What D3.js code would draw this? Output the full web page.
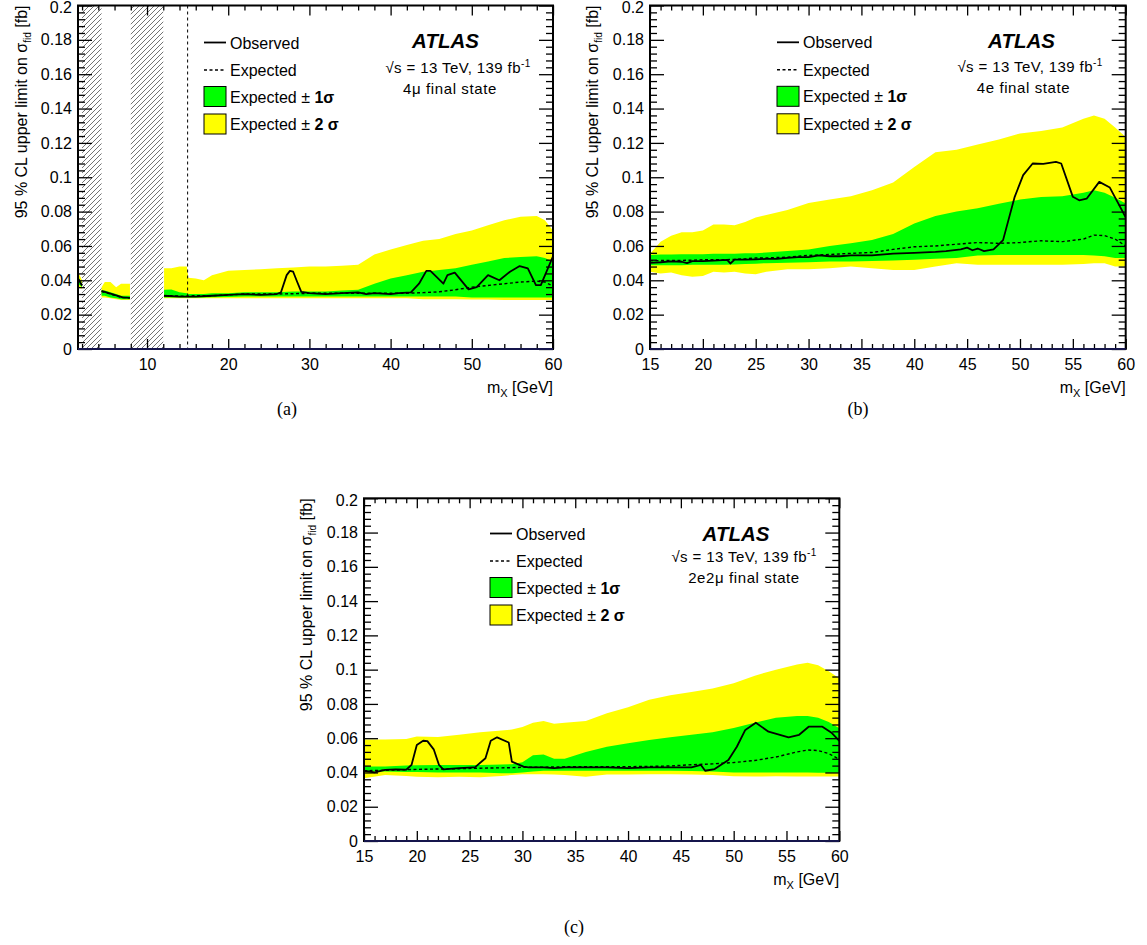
<!DOCTYPE html>
<html><head><meta charset="utf-8">
<script src="https://cdn.jsdelivr.net/npm/d3@7"></script>
<style>
body{margin:0;background:#fff}
svg{display:block}
text{font-family:"Liberation Sans",Arial,sans-serif;fill:#000}
text.serif{font-family:"Liberation Serif","Times New Roman",serif}
</style>
</head><body>
<svg id="chart" width="1147" height="945"></svg>
<script>
// ---------------- DATA ----------------
// Panel (a) 4mu
const aMass = [1.5,2.0, 4.4,4.8,5.5,6.2,6.8,7.9, 12.1,13,14,14.9,15.1,16,17,18, 20,22,24,26,28,30,32,34,36,38,40,42,44,46,48,50,52,54,56,58,59,60];
const aY2hi = [0.045,0.040, 0.036,0.039,0.039,0.036,0.038,0.038, 0.047,0.047,0.048,0.048,0.0415,0.041,0.040,0.043, 0.0455,0.046,0.0465,0.047,0.0475,0.048,0.048,0.0485,0.049,0.055,0.058,0.0605,0.063,0.064,0.067,0.069,0.072,0.075,0.077,0.0775,0.075,0.069];
const aY1hi = [0.042,0.038, 0.034,0.034,0.033,0.032,0.031,0.031, 0.0345,0.0347,0.033,0.0325,0.032,0.032,0.032,0.0325, 0.0325,0.033,0.033,0.033,0.0335,0.0335,0.0335,0.034,0.0345,0.038,0.041,0.043,0.045,0.046,0.047,0.049,0.051,0.053,0.0535,0.054,0.053,0.051];
const aY1lo = [0.038,0.036, 0.031,0.031,0.030,0.0295,0.029,0.029, 0.030,0.030,0.030,0.030,0.030,0.030,0.030,0.0302, 0.0303,0.0305,0.0305,0.0305,0.0305,0.0305,0.0305,0.0305,0.0305,0.0305,0.0305,0.0305,0.0305,0.0305,0.0305,0.030,0.030,0.030,0.030,0.030,0.030,0.030];
const aY2lo = [0.036,0.035, 0.030,0.030,0.0295,0.029,0.0285,0.0285, 0.0295,0.0295,0.0295,0.0295,0.0295,0.0295,0.0295,0.0295, 0.0295,0.0295,0.0295,0.0295,0.0295,0.0295,0.0295,0.0295,0.0295,0.0295,0.0295,0.0295,0.029,0.029,0.029,0.0288,0.0288,0.0285,0.0285,0.0285,0.0285,0.0285];
const aExp  = [0.041,0.037, 0.0335,0.033,0.032,0.031,0.030,0.0298, 0.031,0.031,0.0308,0.0308,0.0308,0.031,0.031,0.031, 0.0315,0.032,0.032,0.032,0.0322,0.0324,0.0325,0.0325,0.0325,0.0325,0.0325,0.0325,0.0328,0.0333,0.0345,0.036,0.037,0.038,0.039,0.0395,0.039,0.0366];
const aObsMass = [1.5,2.0,4.4,5,6,7,7.9, 12.1,14,16,18,20,22,24,26, 26.5,27.2,27.6,28.0,28.5,29.0, 30,32,34,36,37,38,40,41, 42.5,43.5,44.4,44.9,46.5,47,47.9, 49.6,50.6,52,53.4,54.7,55.9,56.9,57.9,58.5,60];
const aObs = [0.041,0.037,0.0339,0.033,0.0315,0.030,0.0298, 0.031,0.0305,0.0305,0.031,0.0315,0.032,0.0315,0.032, 0.033,0.043,0.0455,0.045,0.039,0.0333, 0.0325,0.032,0.0325,0.033,0.032,0.0325,0.032,0.0325, 0.033,0.038,0.0455,0.0455,0.038,0.043,0.0445, 0.0347,0.036,0.043,0.040,0.045,0.0483,0.047,0.0372,0.0372,0.054];
const aHatch = [[2.0,4.4],[8.0,12.0]];
const aCutLine = [15];

// Panel (b) 4e
const bMass = [15,16,17,18,19,20,21,22,23,24,25,26,28,30,32,34,36,38,40,42,44,46,48,50,52,54,56,57,58,59,60];
const bY2hi = [0.0555,0.0625,0.066,0.068,0.068,0.069,0.0725,0.0725,0.072,0.074,0.0765,0.078,0.081,0.085,0.087,0.089,0.0925,0.097,0.106,0.1145,0.116,0.119,0.122,0.1255,0.127,0.129,0.134,0.136,0.134,0.129,0.1235];
const bY1hi = [0.0548,0.055,0.055,0.0552,0.0552,0.0552,0.0555,0.0555,0.0555,0.0557,0.0558,0.0562,0.057,0.058,0.060,0.0615,0.0635,0.067,0.073,0.0775,0.080,0.082,0.0845,0.087,0.0885,0.089,0.091,0.0925,0.091,0.088,0.0847];
const bY1lo = [0.0488,0.0488,0.0488,0.0488,0.049,0.049,0.049,0.049,0.0492,0.0495,0.0497,0.050,0.0502,0.0505,0.051,0.051,0.0512,0.0515,0.052,0.0525,0.053,0.0545,0.0547,0.0547,0.0547,0.0547,0.0547,0.0545,0.054,0.053,0.053];
const bY2lo = [0.045,0.044,0.0445,0.043,0.042,0.0425,0.045,0.0445,0.045,0.044,0.0435,0.045,0.0465,0.0465,0.047,0.048,0.047,0.046,0.046,0.048,0.050,0.049,0.049,0.049,0.049,0.049,0.0495,0.050,0.050,0.048,0.048];
const bExp  = [0.0514,0.0515,0.0515,0.0516,0.0517,0.052,0.052,0.052,0.0522,0.0525,0.053,0.053,0.0535,0.0545,0.055,0.0557,0.0562,0.058,0.0595,0.060,0.061,0.062,0.0615,0.062,0.063,0.0625,0.064,0.0663,0.066,0.064,0.060];
const bObsMass = [15,16,17,18,18.5,19,20,21, 22.3,22.6,23,24,25,26,27,28, 29,30,31,32,33,34,35,36, 38,40,42,43,44.4,45,45.5,46, 46.6,47.5,48.4,49.5,50.3,51.2,52.2,53.4, 53.9,55.0,55.6,56.3,57.5,58.5,60];
const bObs = [0.0502,0.0505,0.051,0.0508,0.050,0.0512,0.0512,0.0515, 0.0519,0.0498,0.052,0.052,0.0522,0.0525,0.0525,0.053, 0.0535,0.0535,0.0545,0.054,0.054,0.0545,0.0545,0.0545, 0.0555,0.056,0.0565,0.057,0.058,0.059,0.0575,0.0585, 0.057,0.058,0.0634,0.0886,0.1012,0.108,0.1078,0.109, 0.108,0.0886,0.0866,0.0875,0.0973,0.094,0.0766];

// Panel (c) 2e2mu
const cMass = [15,17,19,20,22,24,26,28,29,30,31,32,33,34,36,38,40,42,44,46,48,50,52,54,56,57,58,59,60];
const cY2hi = [0.0593,0.0593,0.0595,0.061,0.0607,0.062,0.0635,0.0645,0.065,0.0665,0.069,0.070,0.0685,0.069,0.070,0.0745,0.078,0.0825,0.085,0.087,0.089,0.092,0.0965,0.100,0.103,0.104,0.1025,0.099,0.095];
const cY1hi = [0.0435,0.0435,0.044,0.0442,0.0444,0.0444,0.0444,0.0446,0.0448,0.046,0.050,0.0505,0.048,0.048,0.052,0.055,0.057,0.059,0.0605,0.062,0.0635,0.066,0.069,0.072,0.073,0.073,0.072,0.0695,0.0658];
const cY1lo = [0.0405,0.0405,0.0403,0.0402,0.040,0.040,0.040,0.0395,0.0395,0.040,0.0405,0.041,0.041,0.041,0.041,0.041,0.041,0.041,0.041,0.0408,0.0405,0.040,0.040,0.040,0.040,0.040,0.0398,0.0398,0.0398];
const cY2lo = [0.0366,0.0385,0.038,0.0375,0.0372,0.0375,0.0372,0.038,0.0385,0.039,0.039,0.039,0.0388,0.0385,0.0375,0.0388,0.0388,0.039,0.039,0.0388,0.0385,0.0378,0.0376,0.0378,0.0376,0.0376,0.0376,0.0376,0.0376];
const cExp  = [0.041,0.0413,0.0416,0.0418,0.042,0.0422,0.0425,0.0427,0.0428,0.043,0.043,0.0431,0.0432,0.0433,0.0433,0.0434,0.0434,0.0435,0.0438,0.0445,0.045,0.0458,0.047,0.049,0.052,0.0531,0.0528,0.051,0.0477];
const cObsMass = [15,16,17,18,19,19.5,20,20.6, 21,21.6,22.1,22.5,24,25.3,25.5,26.5, 27,27.6,28.7,29.0,30.1,30.6,32,33, 34,36,38,40,42,44,46,46.9, 47.3,48.2,49.5,50.3,51.1,52.1,53.3,55.2, 56.2,57.1,58.4,59.3,60];
const cObs = [0.041,0.040,0.0415,0.0418,0.0416,0.0444,0.056,0.0585, 0.0583,0.0535,0.0444,0.0418,0.0425,0.043,0.043,0.0483, 0.0585,0.0605,0.0575,0.0463,0.0434,0.043,0.043,0.0425, 0.043,0.043,0.043,0.0425,0.043,0.043,0.043,0.0444, 0.041,0.042,0.0473,0.055,0.0648,0.069,0.0638,0.0605, 0.062,0.0667,0.0667,0.063,0.0585];

// Axis ticks / labels
const yMajor = [0,0.02,0.04,0.06,0.08,0.1,0.12,0.14,0.16,0.18,0.2];
const yMinor = d3.range(0,0.2001,0.004);
const aXMajor = [10,20,30,40,50,60];
const aXMinor = d3.range(2,60.01,2);
const bcXMajor = [15,20,25,30,35,40,45,50,55,60];
const bcXMinor = d3.range(15,60.01,1);
const legendLabels = ["Observed","Expected","Expected \u00b1 ","Expected \u00b1 "];
const legendBold = ["","","1\u03c3","2 \u03c3"];
const atlasLine2 = "\u221as = 13 TeV, 139 fb";
const finalStates = ["4\u03bc final state","4e final state","2e2\u03bc final state"];
const panelTags = ["(a)","(b)","(c)"];

// ---------------- LAYOUT ----------------
const panels = [
  {id:'a', left:78, right:553, top:5.5, bottom:349, xDomain:[1.5,60], xMajor:aXMajor, xMinor:aXMinor,
   mass:aMass, y2hi:aY2hi, y1hi:aY1hi, y1lo:aY1lo, y2lo:aY2lo, exp:aExp, obsMass:aObsMass, obs:aObs,
   hatch:aHatch, cut:aCutLine, ylabX:27, leg:{x:204,y:42.5}, atlas:{c:[445.5,458,450], y:[47.7,72.5,93.5]},
   tag:{x:287,y:415}, fs:0},
  {id:'b', left:650, right:1125.7, top:5.5, bottom:349, xDomain:[15,60], xMajor:bcXMajor, xMinor:bcXMinor,
   mass:bMass, y2hi:bY2hi, y1hi:bY1hi, y1lo:bY1lo, y2lo:bY2lo, exp:bExp, obsMass:bObsMass, obs:bObs,
   hatch:[], cut:[], ylabX:598, leg:{x:777,y:42.3}, atlas:{c:[1021.5,1030,1023.5], y:[48,72,92.5]},
   tag:{x:858,y:415}, fs:1},
  {id:'c', left:364, right:839.3, top:498.3, bottom:841, xDomain:[15,60], xMajor:bcXMajor, xMinor:bcXMinor,
   mass:cMass, y2hi:cY2hi, y1hi:cY1hi, y1lo:cY1lo, y2lo:cY2lo, exp:cExp, obsMass:cObsMass, obs:cObs,
   hatch:[], cut:[], ylabX:312, leg:{x:490,y:533.5}, atlas:{c:[736,744,744], y:[540.5,562,583]},
   tag:{x:574,y:933}, fs:2}
];

const svg = d3.select('#chart');
svg.append('rect').attr('width',1147).attr('height',945).attr('fill','#fff');
const defs = svg.append('defs');
defs.append('pattern').attr('id','hatch').attr('patternUnits','userSpaceOnUse')
  .attr('width',5).attr('height',5)
  .append('path').attr('d','M-1,1 l2,-2 M0,5 l5,-5 M4,6 l2,-2')
  .attr('stroke','#5a5a5a').attr('stroke-width',0.85);

function splitSegs(pts, hatch){
  const segs=[]; let cur=[];
  pts.forEach((p,i)=>{
    if(i>0){
      const prev=pts[i-1].m;
      if(hatch.some(h=>prev<=h[0]+1e-6 && p.m>=h[1]-1e-6)){ segs.push(cur); cur=[]; }
    }
    cur.push(p);
  });
  segs.push(cur);
  return segs;
}

function styleAxis(g){
  g.select('.domain').remove();
  g.selectAll('.tick line').attr('stroke','#000').attr('stroke-width',1.3);
  g.attr('font-family',null).attr('font-size',null);
  g.selectAll('text').attr('font-size',16).attr('fill','#000');
}

panels.forEach((p,pi)=>{
  const x = d3.scaleLinear().domain(p.xDomain).range([p.left,p.right]);
  const y = d3.scaleLinear().domain([0,0.2]).range([p.bottom,p.top]);
  const g = svg.append('g');
  const clipId='clip'+p.id;
  defs.append('clipPath').attr('id',clipId).append('rect')
    .attr('x',p.left).attr('y',p.top).attr('width',p.right-p.left).attr('height',p.bottom-p.top);
  const plot = g.append('g').attr('clip-path',`url(#${clipId})`);

  const bandPts = p.mass.map((m,i)=>({m, y2lo:p.y2lo[i], y2hi:p.y2hi[i], y1lo:p.y1lo[i], y1hi:p.y1hi[i], exp:p.exp[i]}));
  const obsPts = p.obsMass.map((m,i)=>({m, v:p.obs[i]}));
  const bandSegs = splitSegs(bandPts,p.hatch);
  const obsSegs = splitSegs(obsPts,p.hatch);

  const a2 = d3.area().x(d=>x(d.m)).y0(d=>y(d.y2lo)).y1(d=>y(d.y2hi));
  const a1 = d3.area().x(d=>x(d.m)).y0(d=>y(d.y1lo)).y1(d=>y(d.y1hi));
  const le = d3.line().x(d=>x(d.m)).y(d=>y(d.exp));
  const lo = d3.line().x(d=>x(d.m)).y(d=>y(d.v));

  bandSegs.forEach(s=>plot.append('path').attr('d',a2(s)).attr('fill','#ffff00'));
  bandSegs.forEach(s=>plot.append('path').attr('d',a1(s)).attr('fill','#00ff00'));

  p.hatch.forEach(h=>{
    plot.append('rect').attr('x',x(h[0])).attr('y',p.top).attr('width',x(h[1])-x(h[0])).attr('height',p.bottom-p.top)
      .attr('fill','url(#hatch)');
  });

  bandSegs.forEach(s=>plot.append('path').attr('d',le(s)).attr('fill','none')
    .attr('stroke','#000').attr('stroke-width',1.4).attr('stroke-dasharray','3,2.5'));
  obsSegs.forEach(s=>plot.append('path').attr('d',lo(s)).attr('fill','none')
    .attr('stroke','#000').attr('stroke-width',1.8).attr('stroke-linejoin','round'));

  p.cut.forEach(c=>{
    g.append('line').attr('x1',x(c)).attr('x2',x(c)).attr('y1',p.top).attr('y2',p.bottom)
      .attr('stroke','#000').attr('stroke-width',1).attr('stroke-dasharray','3,3');
  });

  // axes
  const minorX = p.xMinor.filter(v=>!p.xMajor.some(M=>Math.abs(M-v)<1e-6) && v>p.xDomain[0]);
  const minorY = yMinor.filter(v=>!yMajor.some(M=>Math.abs(M-v)<1e-6));
  g.append('g').attr('transform',`translate(0,${p.bottom})`)
    .call(d3.axisBottom(x).tickValues(p.xMajor).tickSizeInner(-10).tickSizeOuter(0).tickPadding(10).tickFormat(d3.format('d'))).call(styleAxis);
  g.append('g').attr('transform',`translate(0,${p.bottom})`)
    .call(d3.axisBottom(x).tickValues(minorX).tickSizeInner(-5).tickSizeOuter(0).tickFormat('')).call(styleAxis);
  g.append('g').attr('transform',`translate(0,${p.top})`)
    .call(d3.axisTop(x).tickValues(p.xMajor).tickSizeInner(-10).tickSizeOuter(0).tickFormat('')).call(styleAxis);
  g.append('g').attr('transform',`translate(0,${p.top})`)
    .call(d3.axisTop(x).tickValues(minorX).tickSizeInner(-5).tickSizeOuter(0).tickFormat('')).call(styleAxis);
  const yl = g.append('g').attr('transform',`translate(${p.left},0)`)
    .call(d3.axisLeft(y).tickValues(yMajor).tickSizeInner(-14).tickSizeOuter(0).tickPadding(6).tickFormat(d=>String(+d.toFixed(3)))).call(styleAxis);
  yl.selectAll('.tick').filter(d=>d===0.2).select('text').attr('dy','0.42em');
  g.append('g').attr('transform',`translate(${p.left},0)`)
    .call(d3.axisLeft(y).tickValues(minorY).tickSizeInner(-7).tickSizeOuter(0).tickFormat('')).call(styleAxis);
  g.append('g').attr('transform',`translate(${p.right},0)`)
    .call(d3.axisRight(y).tickValues(yMajor).tickSizeInner(-14).tickSizeOuter(0).tickFormat('')).call(styleAxis);
  g.append('g').attr('transform',`translate(${p.right},0)`)
    .call(d3.axisRight(y).tickValues(minorY).tickSizeInner(-7).tickSizeOuter(0).tickFormat('')).call(styleAxis);

  // frame
  g.append('rect').attr('x',p.left).attr('y',p.top).attr('width',p.right-p.left).attr('height',p.bottom-p.top)
    .attr('fill','none').attr('stroke','#000').attr('stroke-width',2);
  g.append('line').attr('x1',p.left).attr('x2',p.right).attr('y1',y(0)).attr('y2',y(0))
    .attr('stroke','#1c1c66').attr('stroke-width',1.6);

  // axis titles
  const xt = g.append('text').attr('x',p.right).attr('y',p.bottom+44).attr('text-anchor','end').attr('font-size',16);
  xt.append('tspan').text('m');
  xt.append('tspan').attr('font-size',11).attr('dy',4).text('X');
  xt.append('tspan').attr('dy',-4).text(' [GeV]');

  const yt = g.append('text').attr('transform',`translate(${p.ylabX},${p.top}) rotate(-90)`)
    .attr('text-anchor','end').attr('font-size',16);
  yt.append('tspan').text('95 % CL upper limit on \u03c3');
  yt.append('tspan').attr('font-size',10).attr('dy',4).text('fid');
  yt.append('tspan').attr('dy',-4).text(' [fb]');

  // legend
  const L = p.leg;
  const rows = [0,27.5,54,81.5];
  g.append('line').attr('x1',L.x).attr('x2',L.x+22).attr('y1',L.y+rows[0]).attr('y2',L.y+rows[0])
    .attr('stroke','#000').attr('stroke-width',1.8);
  g.append('line').attr('x1',L.x).attr('x2',L.x+22).attr('y1',L.y+rows[1]).attr('y2',L.y+rows[1])
    .attr('stroke','#000').attr('stroke-width',1.4).attr('stroke-dasharray','3,2.5');
  g.append('rect').attr('x',L.x).attr('y',L.y+rows[2]-10).attr('width',22).attr('height',20)
    .attr('fill','#00ff00').attr('stroke','#000').attr('stroke-width',1);
  g.append('rect').attr('x',L.x).attr('y',L.y+rows[3]-10).attr('width',22).attr('height',20)
    .attr('fill','#ffff00').attr('stroke','#000').attr('stroke-width',1);
  legendLabels.forEach((t,i)=>{
    const tx = g.append('text').attr('x',L.x+26).attr('y',L.y+rows[i]+6).attr('font-size',16);
    tx.append('tspan').text(t);
    if(legendBold[i]) tx.append('tspan').attr('font-weight','bold').text(legendBold[i]);
  });

  // ATLAS label
  const A = p.atlas;
  g.append('text').attr('x',A.c[0]).attr('y',A.y[0]).attr('text-anchor','middle')
    .attr('font-size',20.5).attr('font-weight','bold').attr('font-style','italic').text('ATLAS');
  const l2 = g.append('text').attr('x',A.c[1]).attr('y',A.y[1]).attr('text-anchor','middle')
    .attr('font-size',15).attr('letter-spacing',0.4);
  l2.append('tspan').text(atlasLine2);
  l2.append('tspan').attr('font-size',10).attr('dy',-6).text('-1');
  g.append('text').attr('x',A.c[2]).attr('y',A.y[2]).attr('text-anchor','middle')
    .attr('font-size',15).attr('letter-spacing',0.6).text(finalStates[p.fs]);

  svg.append('text').attr('class','serif').attr('x',p.tag.x).attr('y',p.tag.y).attr('text-anchor','middle')
    .attr('font-size',18).text(panelTags[pi]);
});
</script>
</body></html>
